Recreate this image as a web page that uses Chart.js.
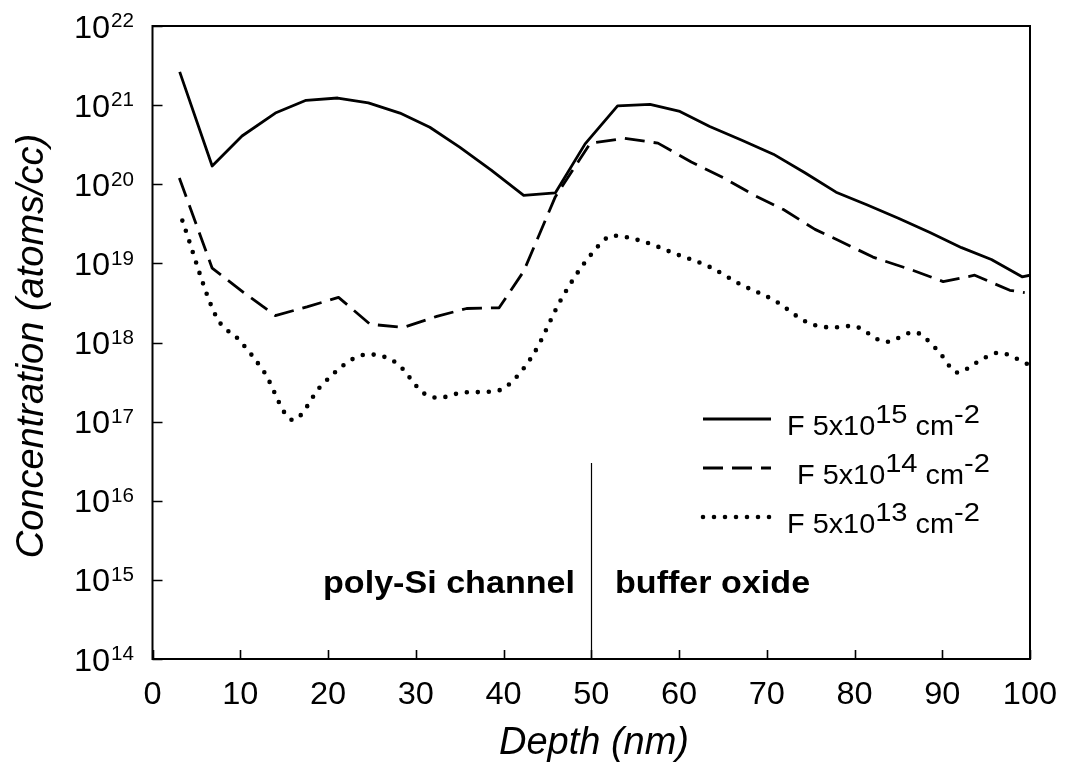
<!DOCTYPE html>
<html>
<head>
<meta charset="utf-8">
<title>F depth profile</title>
<script src="https://cdn.jsdelivr.net/npm/chart.js@4.4.1/dist/chart.umd.min.js"></script>
<style>
  html, body { margin: 0; padding: 0; background: #fff; }
  #chart { display: block; }
</style>
</head>
<body>
<canvas id="chart" width="1066" height="784"></canvas>
<script>
// F 5x10^15 cm^-2
const depthHigh = [3.1, 6.8, 10.2, 14.0, 17.5, 21.1, 24.6, 28.2, 31.6, 35.0, 38.6, 42.3, 45.9, 49.3,
  53.0, 56.7, 60.1, 63.5, 67.1, 70.75, 74.3, 77.9, 81.4, 85.0, 88.6, 92.2, 95.6, 99.1, 100];
const concHigh = [2.63e21, 1.70e20, 4.07e20, 7.94e20, 1.15e21, 1.23e21, 1.07e21, 7.94e20, 5.25e20,
  2.95e20, 1.51e20, 7.24e19, 7.76e19, 3.24e20, 9.77e20, 1.02e21, 8.32e20, 5.37e20, 3.63e20, 2.40e20,
  1.41e20, 7.94e19, 5.50e19, 3.72e19, 2.45e19, 1.58e19, 1.12e19, 6.76e18, 7.08e18];

// F 5x10^14 cm^-2
const depthMid = [3.06, 6.8, 10.4, 14.0, 17.6, 21.2, 24.8, 28.6, 32.4, 35.8, 39.5, 42.3, 45.9, 49.9,
  53.8, 57.6, 61.4, 65.1, 68.6, 71.9, 75.5, 78.2, 82.1, 86.7, 90.1, 93.7, 97.7, 99.4];
const concMid = [1.20e20, 8.7e18, 4.27e18, 2.19e18, 2.82e18, 3.72e18, 1.70e18, 1.55e18, 2.14e18,
  2.69e18, 2.75e18, 7.94e18, 6.92e19, 3.31e20, 3.80e20, 3.31e20, 1.91e20, 1.20e20, 7.24e19, 4.79e19,
  2.69e19, 1.95e19, 1.20e19, 8.13e18, 5.89e18, 7.08e18, 4.57e18, 4.27e18];

// F 5x10^13 cm^-2
const depthLow = [3.4, 7.3, 9.9, 12.7, 16.0, 19.2, 22.8, 24.6, 27.8, 30.9, 32.6, 35.5, 38.8, 40.4,
  43.4, 46.6, 49.9, 52.5, 55.8, 59.6, 63.4, 67.1, 70.9, 74.7, 77.5, 79.7, 83.6, 86.8, 89.4, 91.8,
  93.8, 96.4, 99.9];
const concLow = [3.47e19, 2.09e18, 1.07e18, 4.27e17, 1.05e17, 2.82e17, 6.17e17, 7.08e17, 5.50e17,
  2.29e17, 2.00e17, 2.34e17, 2.40e17, 2.82e17, 7.08e17, 3.55e18, 1.26e19, 2.24e19, 1.91e19, 1.32e19,
  9.12e18, 5.37e18, 3.39e18, 1.78e18, 1.55e18, 1.62e18, 1.02e18, 1.35e18, 8.13e17, 4.17e17, 5.50e17,
  7.41e17, 5.25e17];

const xTicks = [0, 10, 20, 30, 40, 50, 60, 70, 80, 90, 100];
const yExponents = [14, 15, 16, 17, 18, 19, 20, 21, 22];
const doseExponents = ["15", "14", "13"];
const interfaceDepth = 50;
const interfaceTop = 3e16;

const FONT = '"Liberation Sans", Arial, sans-serif';

function toPoints(xs, ys) {
  return xs.map((x, i) => ({ x: x, y: ys[i] }));
}

const styles = [
  { borderDash: [], borderWidth: 2.8, borderCapStyle: "butt" },
  { borderDash: [20, 9], borderWidth: 2.8, borderCapStyle: "butt" },
  { borderDash: [0, 11], borderWidth: 4.6, borderCapStyle: "round" }
];

// text with a horizontal stretch; returns drawn width
function drawText(ctx, text, x, y, font, sx, align) {
  ctx.save();
  ctx.font = font;
  const w = ctx.measureText(text).width * sx;
  const left = align === "center" ? x - w / 2 : align === "right" ? x - w : x;
  ctx.translate(left, y);
  ctx.scale(sx, 1);
  ctx.textAlign = "left";
  ctx.textBaseline = "alphabetic";
  ctx.fillText(text, 0, 0);
  ctx.restore();
  return w;
}

function textWidth(ctx, text, font, sx) {
  ctx.save();
  ctx.font = font;
  const w = ctx.measureText(text).width * sx;
  ctx.restore();
  return w;
}

const decorations = {
  id: "decorations",
  afterDatasetsDraw(chart) {
    const ctx = chart.ctx;
    const area = chart.chartArea;
    const xs = chart.scales.x;
    const ys = chart.scales.y;
    ctx.save();
    ctx.fillStyle = "#000";
    ctx.strokeStyle = "#000";

    // frame
    ctx.lineWidth = 2;
    ctx.strokeRect(area.left, area.top, area.right - area.left, area.bottom - area.top);

    // inner ticks
    ctx.lineWidth = 1.6;
    ctx.beginPath();
    yExponents.forEach(e => {
      const py = Math.round(ys.getPixelForValue(Math.pow(10, e))) + 0.5;
      ctx.moveTo(area.left, py);
      ctx.lineTo(area.left + 10, py);
    });
    xTicks.forEach(v => {
      const px = Math.round(xs.getPixelForValue(v)) + 0.5;
      ctx.moveTo(px, area.bottom);
      ctx.lineTo(px, area.bottom - 9);
    });
    ctx.stroke();

    // channel / oxide boundary
    ctx.lineWidth = 1.2;
    ctx.beginPath();
    const bx = Math.round(xs.getPixelForValue(interfaceDepth)) + 0.5;
    ctx.moveTo(bx, area.bottom);
    ctx.lineTo(bx, ys.getPixelForValue(interfaceTop));
    ctx.stroke();

    const tickFont = "31px " + FONT;
    const supFont = "20px " + FONT;

    // x tick labels
    xTicks.forEach(v => {
      drawText(ctx, String(v), xs.getPixelForValue(v), area.bottom + 45, tickFont, 1.05, "center");
    });

    // y tick labels 10^n
    yExponents.forEach(e => {
      const py = ys.getPixelForValue(Math.pow(10, e));
      const ws = textWidth(ctx, String(e), supFont, 1.03);
      const wb = textWidth(ctx, "10", tickFont, 1.05);
      const x0 = 133 - ws - wb;
      drawText(ctx, "10", x0, py + 11.5, tickFont, 1.05, "left");
      drawText(ctx, String(e), x0 + wb + 1, py + 1.3, supFont, 1.03, "left");
    });

    // axis titles
    const titleFont = "italic 38px " + FONT;
    drawText(ctx, "Depth (nm)", 594, 754, titleFont, 1, "center");
    ctx.save();
    ctx.translate(43, 346);
    ctx.rotate(-Math.PI / 2);
    drawText(ctx, "Concentration (atoms/cc)", 0, 0, titleFont, 1, "center");
    ctx.restore();

    // region labels
    const boldFont = "bold 31px " + FONT;
    drawText(ctx, "poly-Si channel", 323, 593, boldFont, 1.1, "left");
    drawText(ctx, "buffer oxide", 615, 593, boldFont, 1.1, "left");

    // legend
    const rows = [419, 468, 517];
    const textX = [787, 797, 787];
    const legFont = "28px " + FONT;
    const legSup = "26px " + FONT;
    rows.forEach((ly, i) => {
      const st = styles[i];
      ctx.save();
      ctx.lineWidth = st.borderWidth;
      ctx.lineCap = st.borderCapStyle;
      ctx.setLineDash(st.borderDash);
      ctx.beginPath();
      ctx.moveTo(703, ly);
      ctx.lineTo(771, ly);
      ctx.stroke();
      ctx.restore();
      let x = textX[i];
      x += drawText(ctx, "F 5x10", x, ly + 16, legFont, 1.03, "left");
      x += drawText(ctx, doseExponents[i], x, ly + 4, legSup, 1.12, "left");
      x += drawText(ctx, " cm", x, ly + 16, legFont, 1.03, "left");
      drawText(ctx, "-2", x, ly + 4, legSup, 1.12, "left");
    });
    ctx.restore();
  }
};

const labels = ["F 5x10^15 cm^-2", "F 5x10^14 cm^-2", "F 5x10^13 cm^-2"];
const series = [toPoints(depthHigh, concHigh), toPoints(depthMid, concMid), toPoints(depthLow, concLow)];

new Chart(document.getElementById("chart").getContext("2d"), {
  type: "line",
  data: {
    datasets: series.map((pts, i) => ({
      label: labels[i],
      data: pts,
      borderColor: "#000",
      backgroundColor: "#000",
      borderWidth: styles[i].borderWidth,
      borderDash: styles[i].borderDash,
      borderCapStyle: styles[i].borderCapStyle,
      borderJoinStyle: "round",
      pointRadius: 0,
      fill: false,
      cubicInterpolationMode: i === 2 ? "monotone" : "default",
      tension: 0
    }))
  },
  plugins: [decorations],
  options: {
    responsive: false,
    animation: false,
    devicePixelRatio: 1,
    layout: { padding: { left: 152.5, right: 36, top: 26, bottom: 125 } },
    plugins: { legend: { display: false }, tooltip: { enabled: false } },
    scales: {
      x: { type: "linear", min: 0, max: 100, display: false },
      y: { type: "logarithmic", min: 1e14, max: 1e22, display: false }
    }
  }
});
</script>
</body>
</html>
